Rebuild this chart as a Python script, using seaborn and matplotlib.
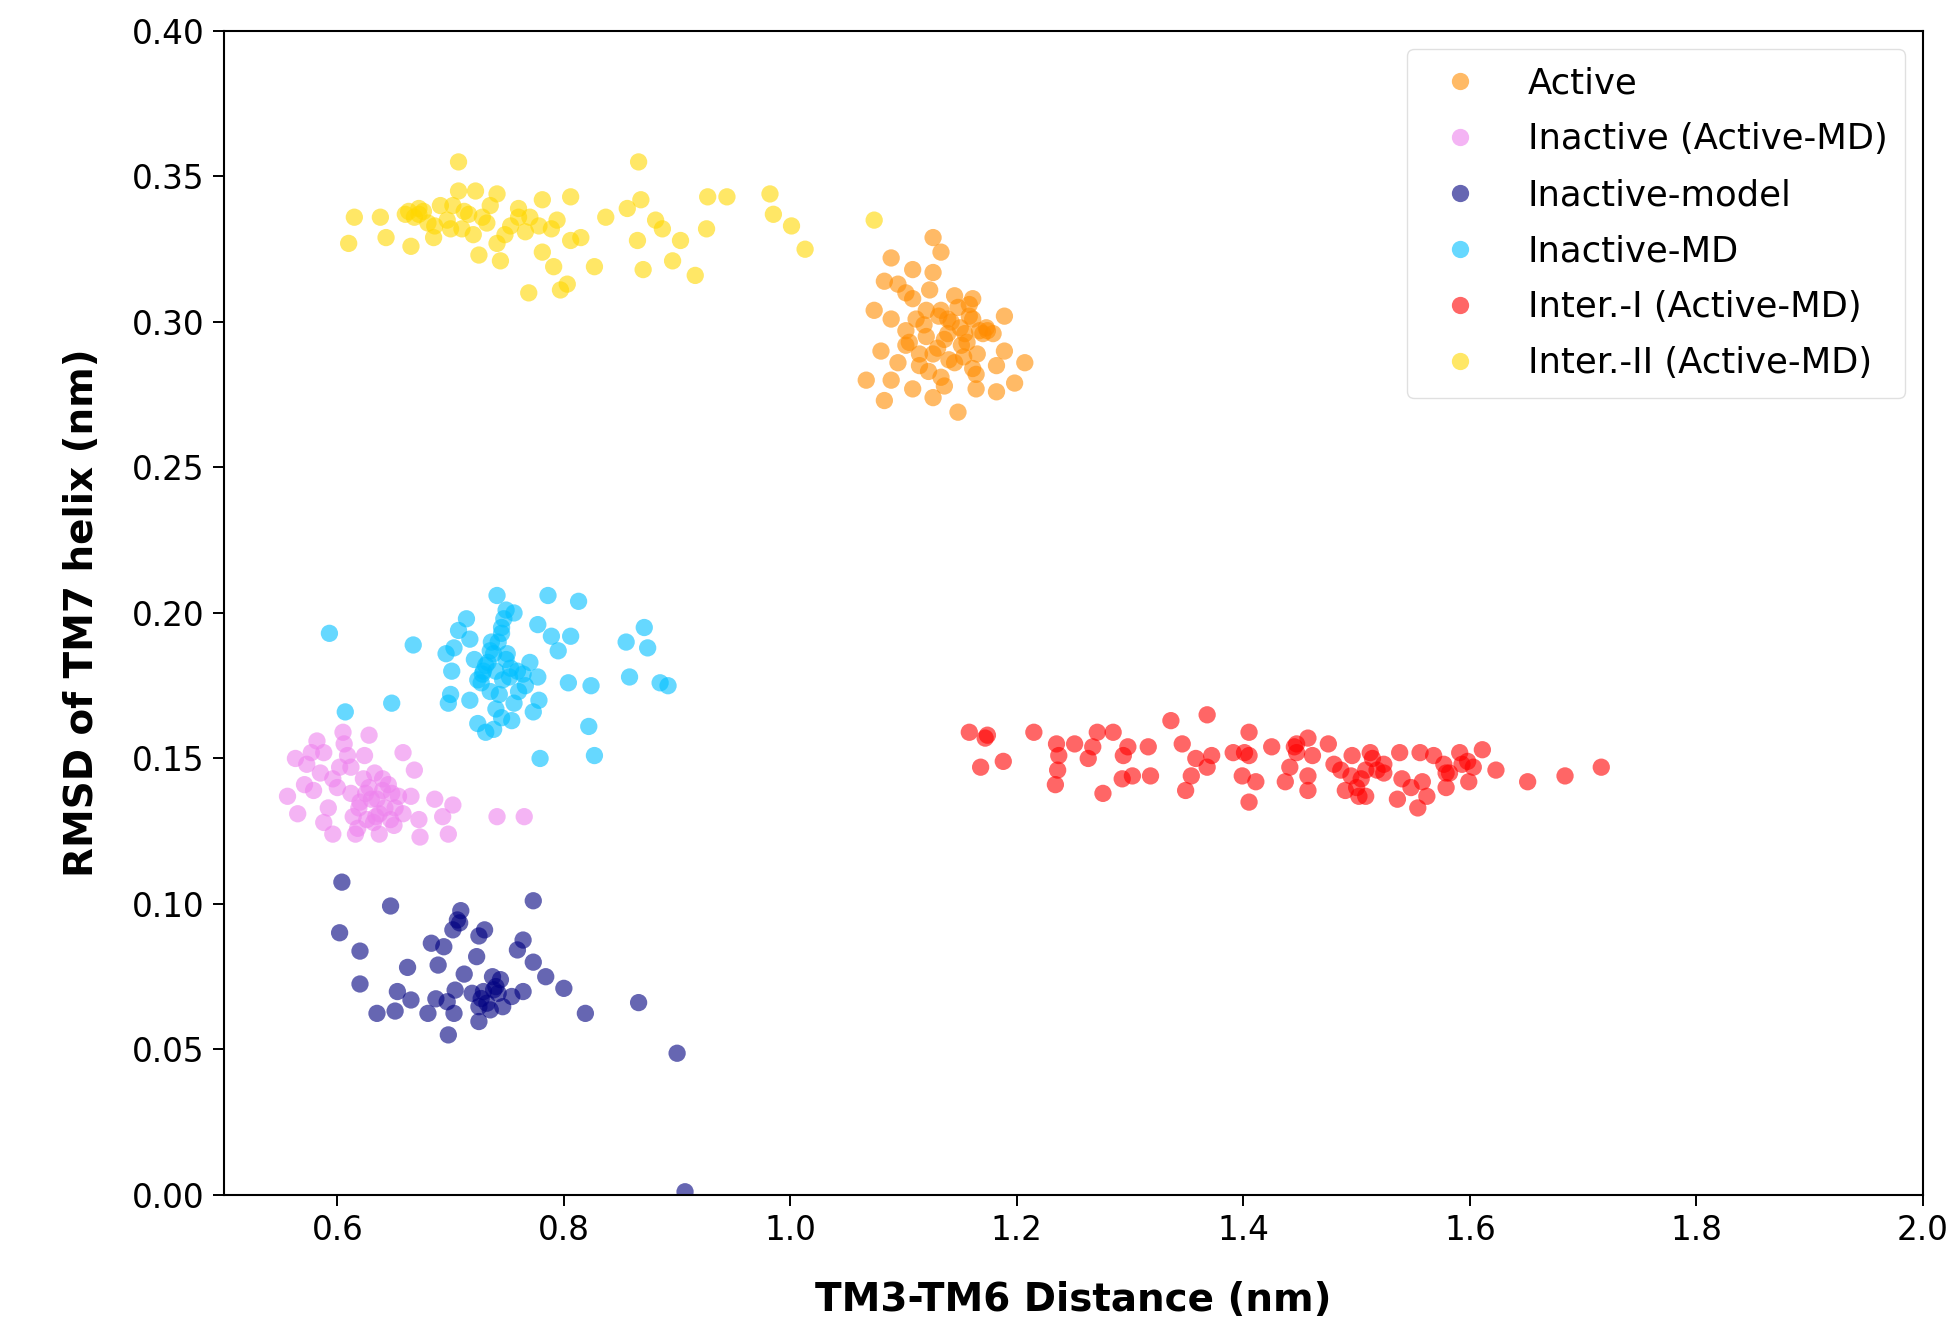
import matplotlib
matplotlib.use("Agg")
import matplotlib.pyplot as plt
import seaborn as sns
import pandas as pd

# Group names (legend order) and colours
groups = ["Active", "Inactive (Active-MD)", "Inactive-model",
          "Inactive-MD", "Inter.-I (Active-MD)", "Inter.-II (Active-MD)"]
colors = ["darkorange", "violet", "navy", "deepskyblue", "red", "gold"]

# Active
active_x = [1.126, 1.133, 1.089, 1.108, 1.126, 1.083, 1.095, 1.074, 1.108, 1.145,
            1.161, 1.189, 1.089, 1.120, 1.139, 1.158, 1.167, 1.173, 1.102, 1.080,
            1.102, 1.120, 1.136, 1.151, 1.189, 1.207, 1.095, 1.114, 1.145, 1.161,
            1.182, 1.067, 1.089, 1.108, 1.083, 1.126, 1.136, 1.164, 1.182, 1.198,
            1.148, 1.114, 1.126, 1.139, 1.154, 1.111, 1.133, 1.123, 1.102, 1.161,
            1.179, 1.133, 1.164, 1.150, 1.156, 1.170, 1.142, 1.130, 1.118, 1.165,
            1.148, 1.122, 1.174, 1.140, 1.158, 1.105, 1.131, 1.153]
active_y = [0.329, 0.324, 0.322, 0.318, 0.317, 0.314, 0.313, 0.304, 0.308, 0.309,
            0.308, 0.302, 0.301, 0.304, 0.301, 0.302, 0.297, 0.298, 0.297, 0.290,
            0.292, 0.295, 0.294, 0.292, 0.290, 0.286, 0.286, 0.285, 0.286, 0.284,
            0.285, 0.280, 0.280, 0.277, 0.273, 0.274, 0.278, 0.277, 0.276, 0.279,
            0.269, 0.289, 0.289, 0.296, 0.296, 0.301, 0.304, 0.311, 0.310, 0.301,
            0.296, 0.281, 0.282, 0.298, 0.293, 0.296, 0.300, 0.291, 0.299, 0.289,
            0.305, 0.283, 0.297, 0.287, 0.306, 0.293, 0.302, 0.288]

# Inactive (Active-MD)
inact_amd_x = [0.605, 0.628, 0.582, 0.563, 0.573, 0.588, 0.596, 0.609, 0.624, 0.658,
               0.668, 0.556, 0.565, 0.579, 0.588, 0.596, 0.616, 0.612, 0.623, 0.630,
               0.637, 0.626, 0.640, 0.633, 0.619, 0.647, 0.651, 0.654, 0.665, 0.672,
               0.686, 0.693, 0.702, 0.698, 0.673, 0.741, 0.765, 0.577, 0.602, 0.637,
               0.628, 0.635, 0.642, 0.620, 0.645, 0.632, 0.614, 0.650, 0.625, 0.640,
               0.585, 0.600, 0.592, 0.658, 0.612, 0.571, 0.606, 0.648, 0.618, 0.634]
inact_amd_y = [0.159, 0.158, 0.156, 0.150, 0.148, 0.152, 0.143, 0.151, 0.151, 0.152,
               0.146, 0.137, 0.131, 0.139, 0.128, 0.124, 0.124, 0.138, 0.143, 0.136,
               0.131, 0.129, 0.139, 0.145, 0.133, 0.129, 0.133, 0.137, 0.137, 0.129,
               0.136, 0.130, 0.134, 0.124, 0.123, 0.130, 0.130, 0.152, 0.147, 0.124,
               0.140, 0.136, 0.133, 0.135, 0.141, 0.128, 0.130, 0.127, 0.138, 0.143,
               0.145, 0.140, 0.133, 0.131, 0.147, 0.141, 0.155, 0.138, 0.126, 0.130]

# Inactive-model
inact_model_x = [0.604, 0.647, 0.602, 0.620, 0.620, 0.662, 0.653, 0.665, 0.635, 0.651,
                 0.683, 0.694, 0.689, 0.702, 0.706, 0.709, 0.687, 0.680, 0.698, 0.703,
                 0.697, 0.704, 0.712, 0.723, 0.725, 0.730, 0.737, 0.729, 0.725, 0.725,
                 0.735, 0.742, 0.754, 0.764, 0.759, 0.764, 0.773, 0.773, 0.784, 0.800,
                 0.819, 0.866, 0.900, 0.907, 0.719, 0.732, 0.746, 0.740, 0.738, 0.744,
                 0.727, 0.708]
inact_model_y = [0.1075, 0.0993, 0.0901, 0.0838, 0.0725, 0.0782, 0.0699, 0.0670, 0.0624, 0.0632,
                 0.0865, 0.0853, 0.0790, 0.0911, 0.0945, 0.0977, 0.0674, 0.0624, 0.0550, 0.0624,
                 0.0664, 0.0704, 0.0759, 0.0819, 0.0890, 0.0911, 0.0750, 0.0699, 0.0647, 0.0596,
                 0.0636, 0.0693, 0.0682, 0.0699, 0.0842, 0.0876, 0.1011, 0.0800, 0.0750, 0.0710,
                 0.0624, 0.0661, 0.0487, 0.0011, 0.0693, 0.0659, 0.0647, 0.0716, 0.0705, 0.0740,
                 0.0675, 0.0935]

# Inactive-MD
inact_md_x = [0.593, 0.667, 0.741, 0.786, 0.813, 0.714, 0.707, 0.703, 0.696, 0.701,
              0.700, 0.698, 0.717, 0.721, 0.728, 0.731, 0.738, 0.742, 0.745, 0.749,
              0.756, 0.749, 0.752, 0.759, 0.766, 0.770, 0.777, 0.778, 0.773, 0.756,
              0.754, 0.745, 0.738, 0.731, 0.724, 0.717, 0.735, 0.724, 0.777, 0.789,
              0.806, 0.795, 0.804, 0.824, 0.822, 0.827, 0.779, 0.855, 0.871, 0.874,
              0.858, 0.885, 0.892, 0.607, 0.648, 0.740, 0.746, 0.733, 0.750, 0.727,
              0.743, 0.736, 0.753, 0.729, 0.745, 0.760, 0.740, 0.747, 0.735, 0.764]
inact_md_y = [0.193, 0.189, 0.206, 0.206, 0.204, 0.198, 0.194, 0.188, 0.186, 0.180,
              0.172, 0.169, 0.191, 0.184, 0.179, 0.182, 0.186, 0.190, 0.195, 0.201,
              0.200, 0.184, 0.178, 0.180, 0.175, 0.183, 0.178, 0.170, 0.166, 0.169,
              0.163, 0.164, 0.160, 0.159, 0.162, 0.170, 0.173, 0.177, 0.196, 0.192,
              0.192, 0.187, 0.176, 0.175, 0.161, 0.151, 0.150, 0.190, 0.195, 0.188,
              0.178, 0.176, 0.175, 0.166, 0.169, 0.180, 0.177, 0.183, 0.186, 0.176,
              0.172, 0.190, 0.181, 0.180, 0.193, 0.173, 0.167, 0.198, 0.187, 0.179]

# Inter.-I (Active-MD)
inter1_x = [1.158, 1.174, 1.172, 1.168, 1.188, 1.215, 1.235, 1.237, 1.236, 1.234,
            1.251, 1.263, 1.267, 1.271, 1.285, 1.276, 1.294, 1.298, 1.293, 1.302,
            1.316, 1.318, 1.336, 1.346, 1.368, 1.358, 1.372, 1.368, 1.354, 1.349,
            1.405, 1.391, 1.401, 1.405, 1.399, 1.411, 1.405, 1.425, 1.445, 1.447,
            1.457, 1.461, 1.441, 1.437, 1.457, 1.457, 1.475, 1.480, 1.486, 1.496,
            1.490, 1.504, 1.508, 1.512, 1.514, 1.502, 1.508, 1.524, 1.524, 1.538,
            1.536, 1.540, 1.548, 1.554, 1.556, 1.558, 1.562, 1.568, 1.577, 1.579,
            1.579, 1.591, 1.593, 1.599, 1.603, 1.611, 1.623, 1.651, 1.684, 1.716,
            1.447, 1.495, 1.500, 1.518, 1.582, 1.598]
inter1_y = [0.159, 0.158, 0.157, 0.147, 0.149, 0.159, 0.155, 0.151, 0.146, 0.141,
            0.155, 0.150, 0.154, 0.159, 0.159, 0.138, 0.151, 0.154, 0.143, 0.144,
            0.154, 0.144, 0.163, 0.155, 0.165, 0.150, 0.151, 0.147, 0.144, 0.139,
            0.159, 0.152, 0.152, 0.151, 0.144, 0.142, 0.135, 0.154, 0.154, 0.155,
            0.157, 0.151, 0.147, 0.142, 0.144, 0.139, 0.155, 0.148, 0.146, 0.151,
            0.139, 0.143, 0.146, 0.152, 0.150, 0.137, 0.137, 0.148, 0.145, 0.152,
            0.136, 0.143, 0.140, 0.133, 0.152, 0.142, 0.137, 0.151, 0.148, 0.145,
            0.140, 0.152, 0.148, 0.142, 0.147, 0.153, 0.146, 0.142, 0.144, 0.147,
            0.152, 0.144, 0.140, 0.146, 0.145, 0.149]

# Inter.-II (Active-MD)
inter2_x = [0.610, 0.615, 0.638, 0.643, 0.665, 0.663, 0.672, 0.685, 0.691, 0.707,
            0.707, 0.697, 0.710, 0.722, 0.725, 0.741, 0.741, 0.744, 0.728, 0.760,
            0.766, 0.769, 0.781, 0.781, 0.791, 0.797, 0.803, 0.806, 0.806, 0.815,
            0.827, 0.837, 0.856, 0.866, 0.868, 0.865, 0.870, 0.881, 0.887, 0.896,
            0.903, 0.916, 0.926, 0.927, 0.944, 0.982, 0.985, 1.001, 1.013, 1.074,
            0.672, 0.760, 0.778, 0.735, 0.794, 0.753, 0.660, 0.716, 0.668, 0.676,
            0.680, 0.700, 0.712, 0.720, 0.732, 0.748, 0.770, 0.789, 0.702, 0.686]
inter2_y = [0.327, 0.336, 0.336, 0.329, 0.326, 0.338, 0.337, 0.329, 0.340, 0.355,
            0.345, 0.335, 0.332, 0.345, 0.323, 0.344, 0.327, 0.321, 0.336, 0.339,
            0.331, 0.310, 0.342, 0.324, 0.319, 0.311, 0.313, 0.343, 0.328, 0.329,
            0.319, 0.336, 0.339, 0.355, 0.342, 0.328, 0.318, 0.335, 0.332, 0.321,
            0.328, 0.316, 0.332, 0.343, 0.343, 0.344, 0.337, 0.333, 0.325, 0.335,
            0.339, 0.336, 0.333, 0.340, 0.335, 0.333, 0.337, 0.337, 0.336, 0.338,
            0.334, 0.332, 0.338, 0.330, 0.334, 0.330, 0.336, 0.332, 0.340, 0.333]

xs = [active_x, inact_amd_x, inact_model_x, inact_md_x, inter1_x, inter2_x]
ys = [active_y, inact_amd_y, inact_model_y, inact_md_y, inter1_y, inter2_y]

frames = []
for name, gx, gy in zip(groups, xs, ys):
    frames.append(pd.DataFrame({"x": gx, "y": gy, "state": name}))
df = pd.concat(frames, ignore_index=True)

sns.set_style("white")
plt.rcParams['font.family'] = ['DejaVu Sans']
plt.rcParams['text.color'] = 'black'
plt.rcParams['axes.labelcolor'] = 'black'
plt.rcParams['xtick.color'] = 'black'
plt.rcParams['ytick.color'] = 'black'

fig = plt.figure(figsize=(19.52, 13.35), dpi=100)
ax = fig.add_axes([0.1148, 0.1049, 0.8703, 0.8719])

sns.scatterplot(data=df, x="x", y="y", hue="state", hue_order=groups,
                palette=dict(zip(groups, colors)), s=155, alpha=0.6,
                linewidth=0, ax=ax)

ax.set_xlim(0.5, 2.0)
ax.set_ylim(0.0, 0.40)
ax.set_xticks([0.6, 0.8, 1.0, 1.2, 1.4, 1.6, 1.8, 2.0])
ax.set_yticks([0.00, 0.05, 0.10, 0.15, 0.20, 0.25, 0.30, 0.35, 0.40])
ax.set_yticklabels(["0.00", "0.05", "0.10", "0.15", "0.20", "0.25", "0.30", "0.35", "0.40"])
ax.tick_params(axis="both", labelsize=23.5, length=8, width=1.4, direction="out",
               bottom=True, left=True, pad=6, colors="black")
for sp in ax.spines.values():
    sp.set_color("black")
    sp.set_linewidth(1.5)

ax.set_xlabel("TM3-TM6 Distance (nm)", fontsize=28, fontweight="bold", labelpad=24)
ax.set_ylabel("RMSD of TM7 helix (nm)", fontsize=28, fontweight="bold", labelpad=22)

leg = ax.legend(loc="upper right", fontsize=25.5, frameon=True, markerscale=1.0,
                handletextpad=0.9, labelspacing=0.62, borderpad=0.5,
                borderaxespad=0.5, title=None)
leg.get_frame().set_edgecolor("#d9d9d9")
for h in leg.legend_handles:
    h.set_alpha(0.6)

fig.savefig("out.png", dpi=100)
